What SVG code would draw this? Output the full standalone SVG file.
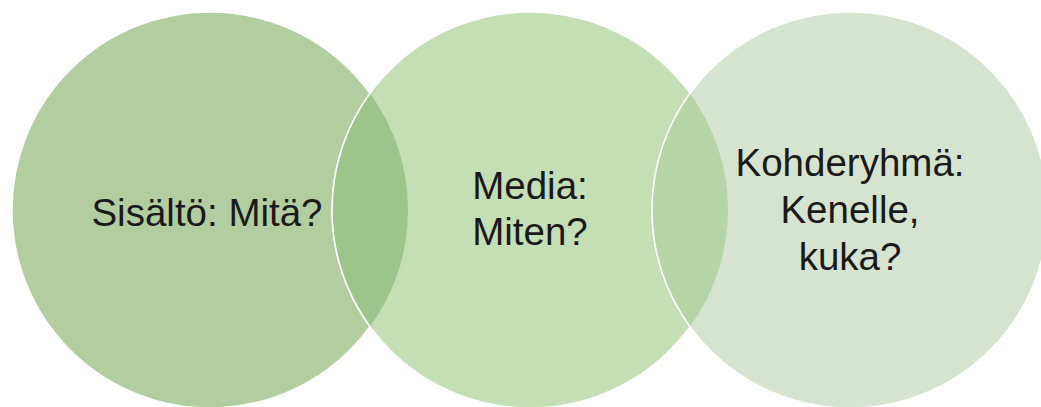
<svg xmlns="http://www.w3.org/2000/svg" width="1041" height="407" viewBox="0 0 1041 407">
  <style>
    .ring { stroke: #ffffff; stroke-width: 1.5; }
    .edge { fill: none; stroke: #ffffff; stroke-width: 1.5; }
    .label { font-family: "Liberation Sans", Arial, sans-serif; font-size: 38.5px; fill: #1a1a1a; text-anchor: middle; }
  </style>
  <rect width="1041" height="407" fill="#ffffff"/>

  <g id="content">
    <circle class="ring" cx="210" cy="210" r="198" fill="#b2cea1"/>
  </g>
  <g id="media">
    <circle class="ring" cx="530" cy="210" r="198" fill="#c4deb5"/>
  </g>
  <g id="audience">
    <circle class="ring" cx="850" cy="210" r="198" fill="#d5e3cf"/>
  </g>

  <!-- overlap regions between neighbouring circles -->
  <g id="overlaps">
    <path d="M370,93.4 A198,198 0 0,1 370,326.6 A198,198 0 0,1 370,93.4 Z" fill="#9dc48a"/>
    <path class="edge" d="M370,326.6 A198,198 0 0,1 370,93.4"/>
    <path d="M690,93.4 A198,198 0 0,1 690,326.6 A198,198 0 0,1 690,93.4 Z" fill="#b5d4a7"/>
    <path class="edge" d="M690,326.6 A198,198 0 0,1 690,93.4"/>
  </g>

  <g id="labels">
    <text class="label" x="207" y="226">Sisältö: Mitä?</text>
    <text class="label" x="530" y="199">Media:</text>
    <text class="label" x="530" y="245">Miten?</text>
    <text class="label" x="850" y="176">Kohderyhmä:</text>
    <text class="label" x="850" y="223">Kenelle,</text>
    <text class="label" x="850" y="270">kuka?</text>
  </g>
</svg>
